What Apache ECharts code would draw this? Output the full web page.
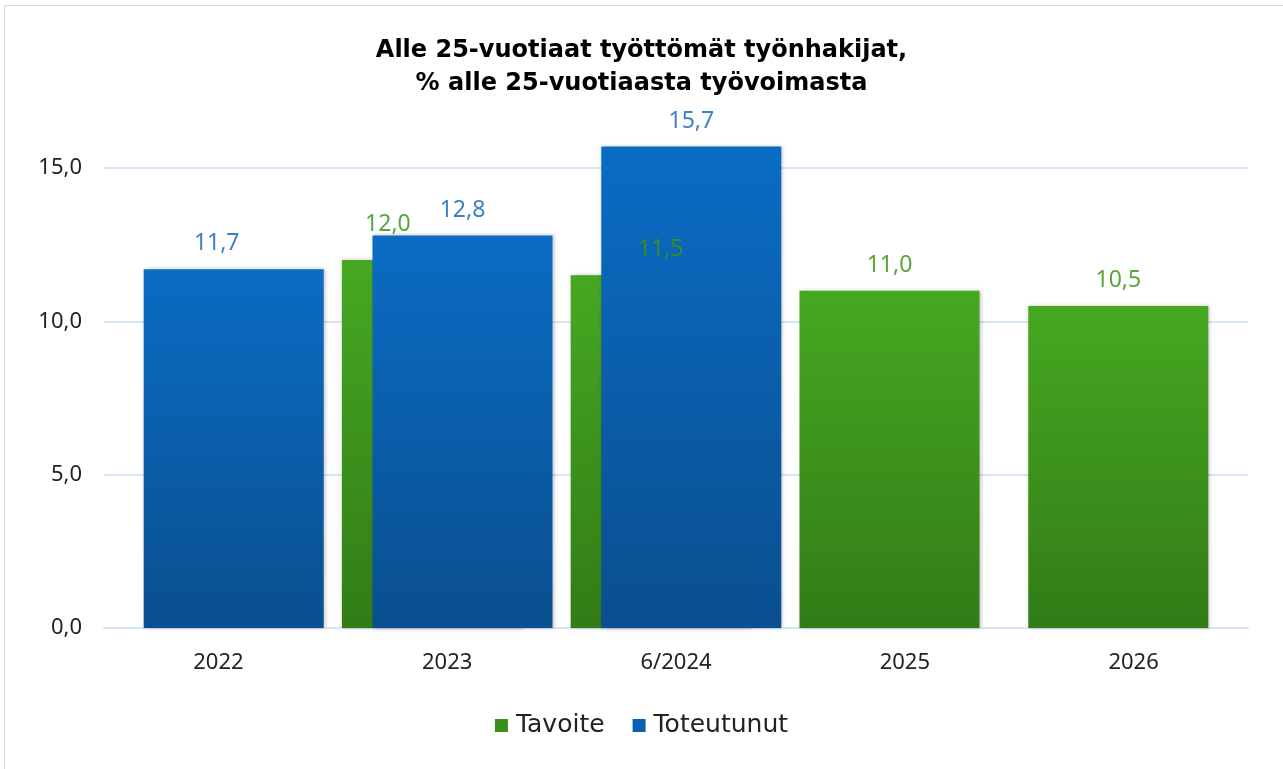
<!DOCTYPE html>
<html>
<head>
<meta charset="utf-8">
<script src="https://cdn.jsdelivr.net/npm/echarts@6/dist/echarts.min.js"></script>
<style>
  html, body { margin: 0; padding: 0; background: #fff; }
  #chart { width: 1283px; height: 769px; box-sizing: border-box; }
  #frame { position: absolute; left: 4px; top: 5px; width: 1290px; height: 800px; border: 1px solid #d9d9d9; }
</style>
</head>
<body>
<div id="frame"></div>
<div id="chart" style="position:absolute;left:0;top:0;"></div>
<script>
  const categories = ['2022', '2023', '6/2024', '2025', '2026'];
  const tavoite = [null, 12.0, 11.5, 11.0, 10.5];
  const toteutunut = [11.7, 12.8, 15.7, null, null];
  const yTicks = [0, 5, 10, 15];

  const fmt = v => v.toFixed(1).replace('.', ',');

  const chart = echarts.init(document.getElementById('chart'));

  const greenGrad = new echarts.graphic.LinearGradient(0, 0, 0, 1, [
    { offset: 0, color: '#46a821' },
    { offset: 1, color: '#327c17' }
  ]);
  const blueGrad = new echarts.graphic.LinearGradient(0, 0, 0, 1, [
    { offset: 0, color: '#0a6cc4' },
    { offset: 1, color: '#0a4f8f' }
  ]);

  // 2023 tavoite-label on siirretty vasemmalle, 2022 toteutunut kategorian keskelle
  const greenData = tavoite.map((v, i) => {
    if (i === 1) return { value: v, label: { offset: [-44, -10] } };
    if (i === 2) return { value: v, label: { color: '#3c8a2a' } };
    return v;
  });
  const blueData = toteutunut.map((v, i) => {
    if (i === 0) return { value: v, label: { offset: [-17, 0] } };
    return v;
  });

  const option = {
    animation: false,
    title: {
      text: 'Alle 25-vuotiaat työttömät työnhakijat,\n% alle 25-vuotiaasta työvoimasta',
      left: 'center',
      top: 29,
      textStyle: {
        fontFamily: 'DejaVu Sans',
        fontWeight: 'bold',
        fontSize: 24,
        lineHeight: 33,
        color: '#000'
      }
    },
    legend: {
      bottom: 26,
      left: 'center',
      itemWidth: 13,
      itemHeight: 13,
      itemGap: 28,
      icon: 'rect',
      textStyle: { fontFamily: 'DejaVu Sans', fontSize: 25, color: '#222', padding: [0, 0, 0, 3] },
      data: [
        { name: 'Tavoite', itemStyle: { color: '#3a8f1c' } },
        { name: 'Toteutunut', itemStyle: { color: '#0a5fb0' } }
      ]
    },
    grid: { left: 104, right: 35, top: 106.7, bottom: 141 },
    xAxis: {
      type: 'category',
      data: categories,
      axisTick: { show: false },
      axisLine: { lineStyle: { color: '#d6e6f5', width: 2 } },
      axisLabel: { fontFamily: 'Noto Sans', fontSize: 22, color: '#222', margin: 24 }
    },
    yAxis: {
      type: 'value',
      min: 0,
      max: 17,
      interval: 5,
      axisLabel: {
        fontFamily: 'Noto Sans', fontSize: 22, color: '#222', margin: 22,
        showMaxLabel: false,
        formatter: v => yTicks.includes(v) ? fmt(v) : ''
      },
      splitLine: { showMaxLine: false, lineStyle: { color: '#d6e6f5', width: 2 } }
    },
    series: [
      {
        name: 'Tavoite',
        type: 'bar',
        barWidth: 180,
        barGap: '-83%',
        data: greenData,
        itemStyle: { color: greenGrad, shadowColor: 'rgba(0,0,0,0.25)', shadowBlur: 4, shadowOffsetX: 1 },
        label: {
          show: true, position: 'top', distance: 14,
          fontFamily: 'Noto Sans', fontSize: 23, color: '#5aa63a',
          formatter: p => fmt(p.value)
        }
      },
      {
        name: 'Toteutunut',
        type: 'bar',
        barWidth: 180,
        data: blueData,
        itemStyle: { color: blueGrad, shadowColor: 'rgba(0,0,0,0.25)', shadowBlur: 4, shadowOffsetX: 1 },
        label: {
          show: true, position: 'top', distance: 14,
          fontFamily: 'Noto Sans', fontSize: 23, color: '#3d82c6',
          formatter: p => fmt(p.value)
        }
      }
    ]
  };

  chart.setOption(option);
</script>
</body>
</html>
